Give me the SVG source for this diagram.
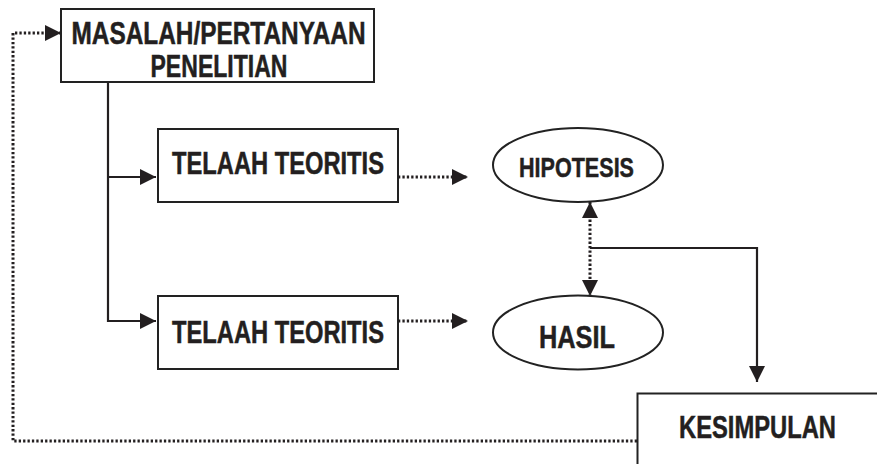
<svg xmlns="http://www.w3.org/2000/svg" width="877" height="464" viewBox="0 0 877 464">
<style>
.box{fill:#fff;stroke:#222;stroke-width:2}
.t{font-family:"Liberation Sans",Arial,sans-serif;font-weight:bold;fill:#231f20;stroke:#231f20;stroke-width:0.5;text-anchor:middle}
.solid{fill:none;stroke:#231f20;stroke-width:2.2}
.dot{fill:none;stroke:#231f20;stroke-width:3;stroke-dasharray:2.3 2.1}
</style>
<defs>
<marker id="ah" markerUnits="userSpaceOnUse" markerWidth="16" markerHeight="16" refX="15" refY="7.5" orient="auto-start-reverse" viewBox="0 0 15 15">
<path d="M0,0 L15,7.5 L0,15 z" fill="#231f20"/>
</marker>
</defs>
<rect width="877" height="464" fill="#fff"/>
<g id="connectors">
<path class="solid" d="M108,82 V321 H156" marker-end="url(#ah)"/>
<path class="solid" d="M108,177 H156" marker-end="url(#ah)"/>
<path class="dot" d="M398,177 H468" marker-end="url(#ah)"/>
<path class="dot" d="M398,321 H468" marker-end="url(#ah)"/>
<path class="dot" d="M590,202 V296" marker-start="url(#ah)" marker-end="url(#ah)"/>
<path class="solid" d="M590,248 H757 V382" marker-end="url(#ah)"/>
<path class="dot" d="M637,441 H13 V33 H61" marker-end="url(#ah)"/>
</g>
<g id="masalah">
<rect class="box" x="61" y="9" width="313" height="73"/>
<text class="t" x="218.5" y="43.5" font-size="31.5" textLength="294" lengthAdjust="spacingAndGlyphs">MASALAH/PERTANYAAN</text>
<text class="t" x="219" y="77" font-size="31.5" textLength="137" lengthAdjust="spacingAndGlyphs">PENELITIAN</text>
</g>
<g id="telaah1">
<rect class="box" x="158" y="129" width="240" height="73"/>
<text class="t" x="278" y="174" font-size="31" textLength="212" lengthAdjust="spacingAndGlyphs">TELAAH TEORITIS</text>
</g>
<g id="telaah2">
<rect class="box" x="158" y="296" width="240" height="73"/>
<text class="t" x="278" y="343" font-size="31" textLength="212" lengthAdjust="spacingAndGlyphs">TELAAH TEORITIS</text>
</g>
<g id="hipotesis">
<ellipse class="box" cx="578" cy="165" rx="85" ry="37"/>
<text class="t" x="576.5" y="176.5" font-size="28" textLength="115" lengthAdjust="spacingAndGlyphs">HIPOTESIS</text>
</g>
<g id="hasil">
<ellipse class="box" cx="578" cy="332.5" rx="85" ry="37"/>
<text class="t" x="577" y="348" font-size="31.5" textLength="76" lengthAdjust="spacingAndGlyphs">HASIL</text>
</g>
<g id="kesimpulan">
<rect class="box" x="637.5" y="393.5" width="260" height="100"/>
<text class="t" x="757.5" y="438" font-size="31.5" textLength="157" lengthAdjust="spacingAndGlyphs">KESIMPULAN</text>
</g>
</svg>
